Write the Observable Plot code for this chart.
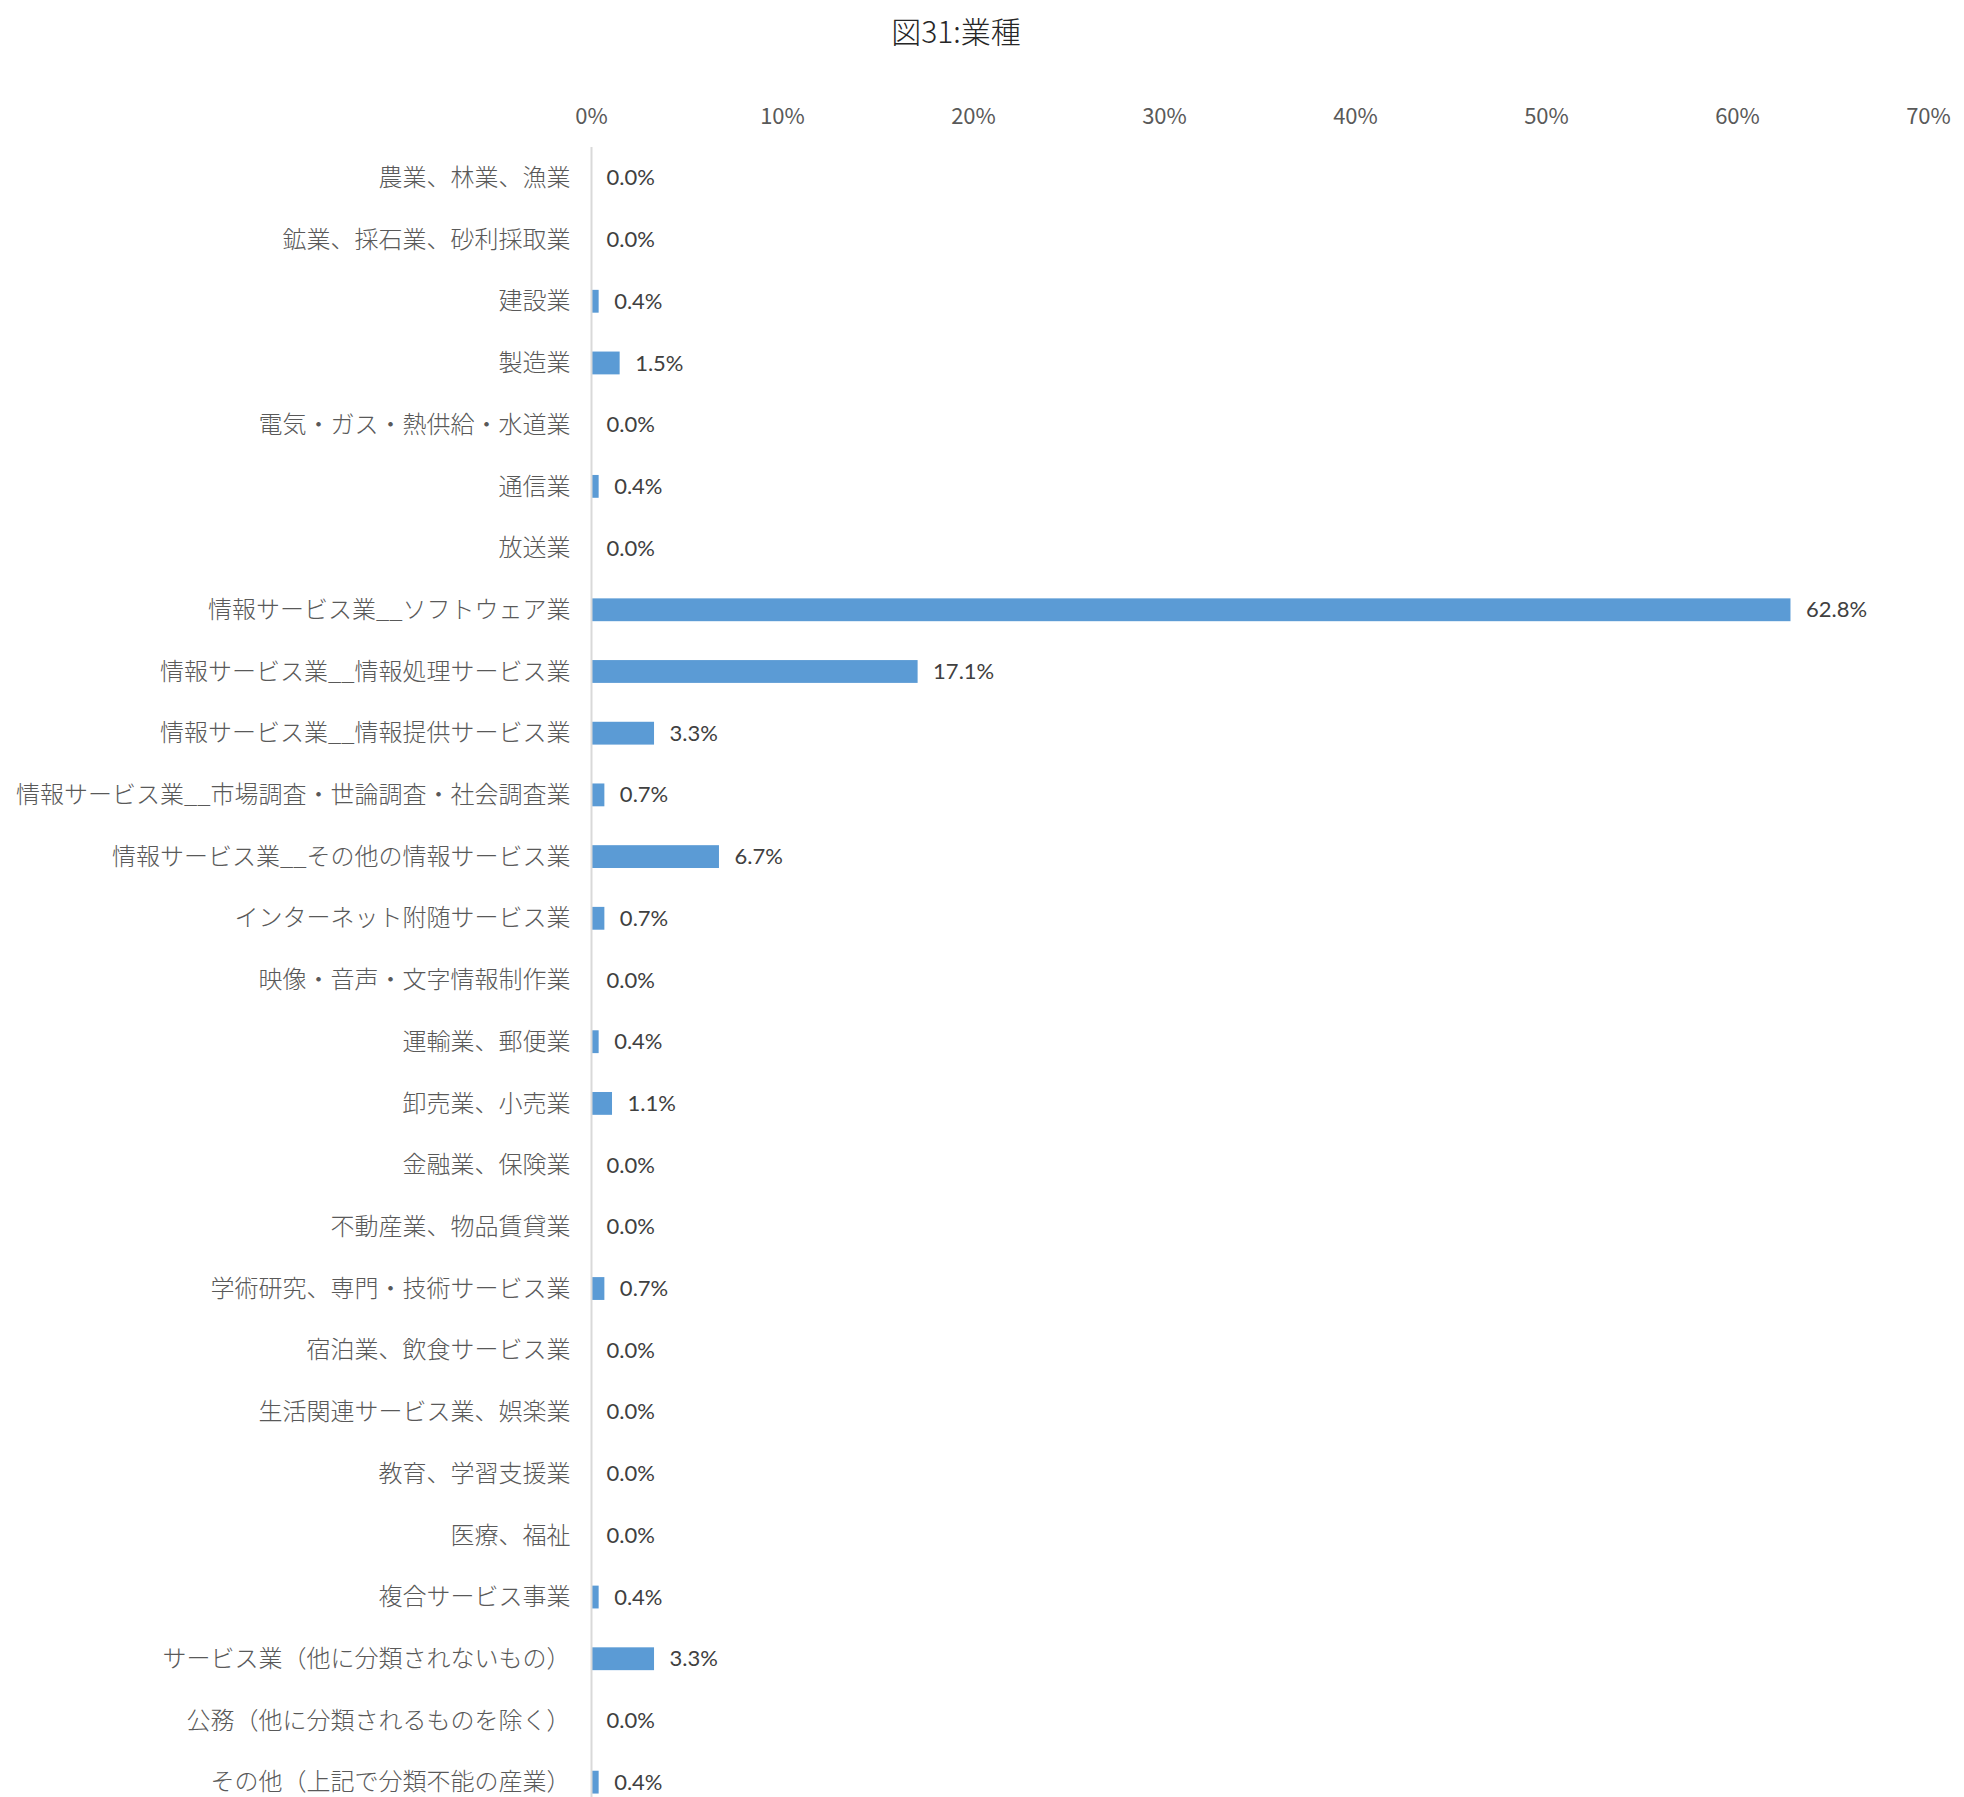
<!DOCTYPE html>
<html>
<head>
<meta charset="utf-8">
<script src="https://cdn.jsdelivr.net/npm/d3@7"></script>
<script src="https://cdn.jsdelivr.net/npm/@observablehq/plot@0.6"></script>
<style>
  html, body { margin: 0; padding: 0; background: #fff; overflow: hidden; }
  #title { position: absolute; left: 0; top: 0; width: 1912px; height: 60px; display: flex; align-items: center; justify-content: center;
    font-family: "Noto Sans CJK JP", sans-serif; font-size: 30px; font-weight: 300; color: #262626; }
  #chart { position: absolute; left: 0; top: 62px; }
</style>
</head>
<body>
<div id="title">図31:業種</div>
<div id="chart"></div>
<script>
const categories = [
  "農業、林業、漁業",
  "鉱業、採石業、砂利採取業",
  "建設業",
  "製造業",
  "電気・ガス・熱供給・水道業",
  "通信業",
  "放送業",
  "情報サービス業__ソフトウェア業",
  "情報サービス業__情報処理サービス業",
  "情報サービス業__情報提供サービス業",
  "情報サービス業__市場調査・世論調査・社会調査業",
  "情報サービス業__その他の情報サービス業",
  "インターネット附随サービス業",
  "映像・音声・文字情報制作業",
  "運輸業、郵便業",
  "卸売業、小売業",
  "金融業、保険業",
  "不動産業、物品賃貸業",
  "学術研究、専門・技術サービス業",
  "宿泊業、飲食サービス業",
  "生活関連サービス業、娯楽業",
  "教育、学習支援業",
  "医療、福祉",
  "複合サービス事業",
  "サービス業（他に分類されないもの）",
  "公務（他に分類されるものを除く）",
  "その他（上記で分類不能の産業）"
];
const values = [0.0, 0.0, 0.4, 1.5, 0.0, 0.4, 0.0, 62.8, 17.1, 3.3, 0.7, 6.7, 0.7, 0.0, 0.4, 1.1, 0.0, 0.0, 0.7, 0.0, 0.0, 0.0, 0.0, 0.4, 3.3, 0.0, 0.4];
const xTicks = [0, 10, 20, 30, 40, 50, 60, 70];

const data = categories.map((c, i) => ({category: c, value: values[i]}));

const chart = Plot.plot({
  width: 1964,
  height: 1751,
  marginTop: 85,
  marginBottom: 0,
  marginLeft: 591,
  marginRight: 36,
  style: {fontFamily: "'Noto Sans CJK JP', sans-serif", color: "#595959", background: "#fff"},
  x: {domain: [0, 70], label: null},
  y: {domain: categories, label: null, paddingInner: 0.63, paddingOuter: 0.315, round: false},
  marks: [
    Plot.axisX({anchor: "top", ticks: xTicks, tickSize: 0, tickPadding: 24, fontSize: 22, tickFormat: d => d + "%", label: null}),
    Plot.axisY({tickSize: 0, tickPadding: 21, fontSize: 24, fontWeight: 300, label: null}),
    Plot.barX(data, {x: "value", y: "category", fill: "#5B9BD5"}),
    Plot.ruleX([0], {stroke: "#D9D9D9", strokeWidth: 2}),
    Plot.text(data, {x: "value", y: "category", text: d => d.value.toFixed(1) + "%", dx: 15, textAnchor: "start",
      fill: "#404040", fontSize: 22, fontFamily: "Lato, 'Noto Sans CJK JP', sans-serif"})
  ]
});
document.getElementById("chart").appendChild(chart);
</script>
</body>
</html>
